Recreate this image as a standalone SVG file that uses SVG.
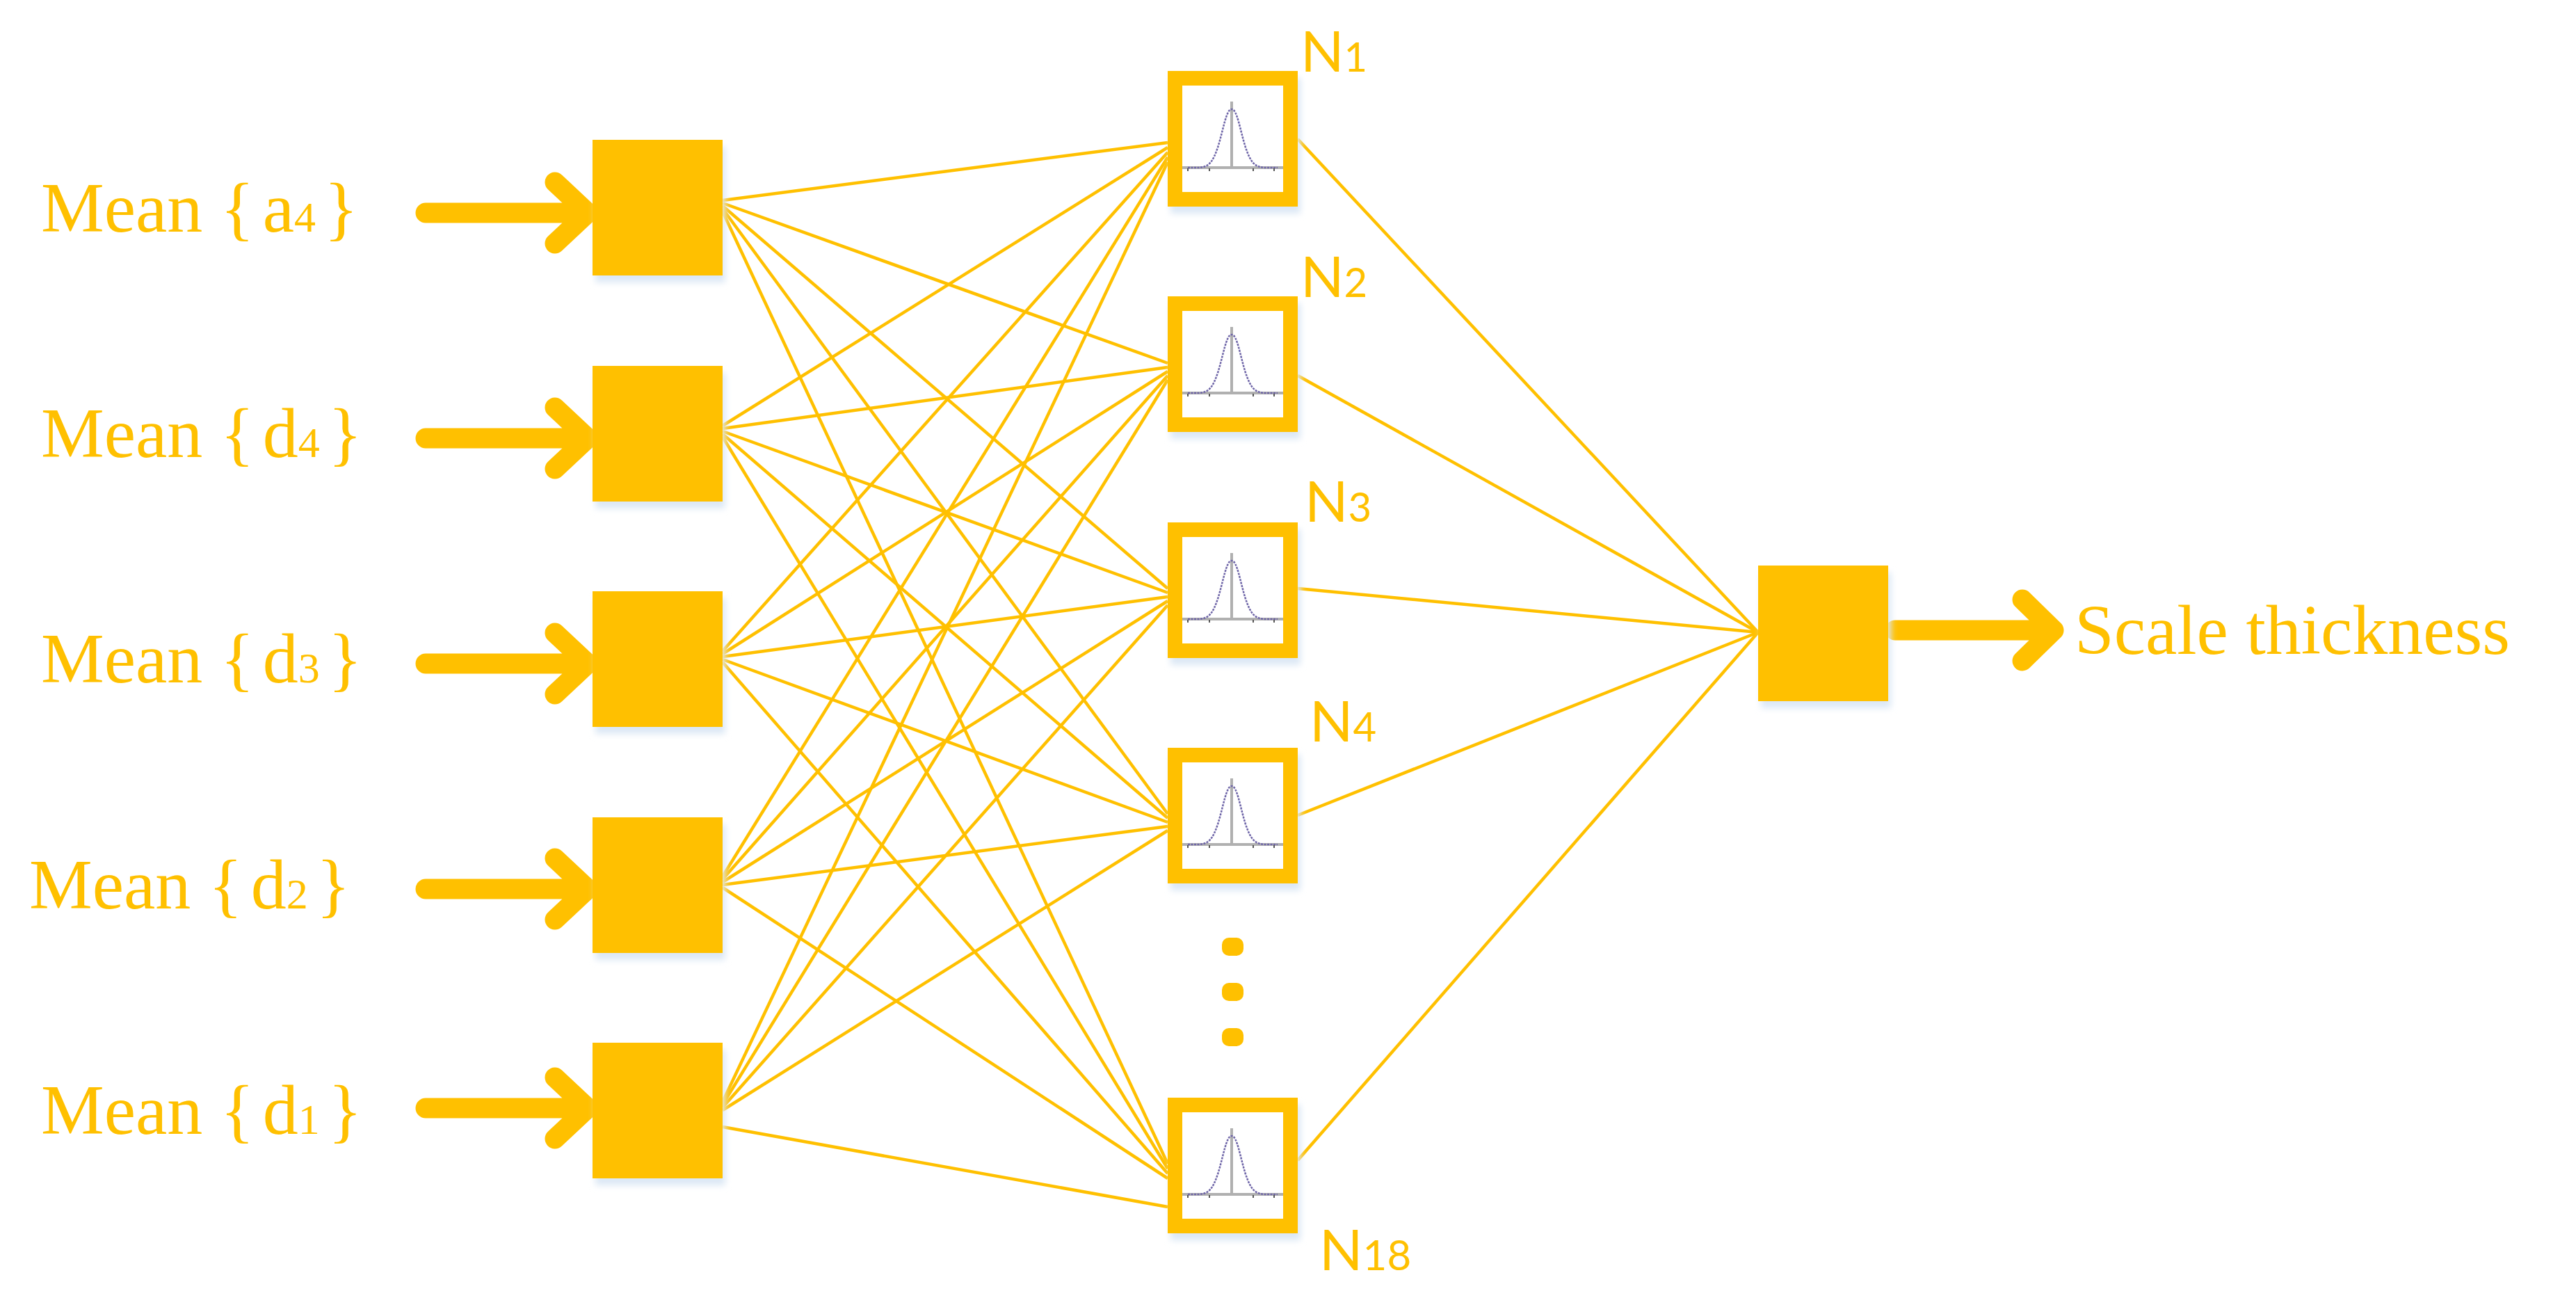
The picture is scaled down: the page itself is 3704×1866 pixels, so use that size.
<svg xmlns="http://www.w3.org/2000/svg" xmlns:xlink="http://www.w3.org/1999/xlink" width="3704" height="1866" viewBox="0 0 3704 1866">
<style>
.y{fill:#FFC000}
.arr{stroke:#FFC000;stroke-width:29;stroke-linecap:round;stroke-linejoin:round;fill:none}
.c{stroke:#FFC000;stroke-width:4.5;fill:none}
.lbl{font-family:"Liberation Serif",serif;font-size:102px;fill:#FFC000}
.nl{font-family:Lato,"Open Sans",sans-serif;font-size:82px;fill:#FFC000}
.sh{fill:#DCE8F5;filter:url(#b)}
</style>
<defs>
<filter id="b" x="-20%" y="-20%" width="140%" height="140%"><feGaussianBlur stdDeviation="5"/></filter>
<g id="gauss">
<rect x="0" y="0" width="187" height="195" class="sh" transform="translate(4,10)"/>
<rect x="0" y="0" width="187" height="195" class="y"/>
<rect x="21" y="21" width="145" height="153" fill="#fff"/>
<line x1="21" y1="139" x2="166" y2="139" stroke="#b0b0b0" stroke-width="4"/>
<line x1="92" y1="44" x2="92" y2="139" stroke="#b0b0b0" stroke-width="4"/>
<path d="M29,139 L45,139 C60,138 65,130 72,110 C80,85 84,55 92,55 C100,55 104,85 112,110 C119,130 124,138 139,139 L158,139" stroke="#6f66a8" stroke-width="2.5" stroke-dasharray="3,1.5" fill="none"/>
<g fill="#555"><rect x="28" y="140" width="2" height="4"/><rect x="59" y="140" width="2" height="4"/><rect x="122" y="140" width="2" height="4"/><rect x="152" y="140" width="2" height="4"/></g>
</g>
<g id="solid">
<rect x="0" y="0" width="187" height="195" class="sh" transform="translate(4,10)"/>
<rect x="0" y="0" width="187" height="195" class="y"/>
</g>
</defs>
<rect width="3704" height="1866" fill="#fff"/>

<g id="connectors">
<g class="c">
<line x1="1039" y1="288" x2="1679" y2="205"/>
<line x1="1039" y1="292" x2="1679" y2="522"/>
<line x1="1039" y1="296" x2="1679" y2="846"/>
<line x1="1039" y1="300" x2="1679" y2="1170"/>
<line x1="1039" y1="304" x2="1679" y2="1673"/>
<line x1="1039" y1="612" x2="1679" y2="212"/>
<line x1="1039" y1="616" x2="1679" y2="528"/>
<line x1="1039" y1="620" x2="1679" y2="852"/>
<line x1="1039" y1="624" x2="1679" y2="1176"/>
<line x1="1039" y1="628" x2="1679" y2="1680"/>
<line x1="1039" y1="936" x2="1679" y2="219"/>
<line x1="1039" y1="940" x2="1679" y2="534"/>
<line x1="1039" y1="944" x2="1679" y2="858"/>
<line x1="1039" y1="948" x2="1679" y2="1182"/>
<line x1="1039" y1="952" x2="1679" y2="1687"/>
<line x1="1039" y1="1260" x2="1679" y2="226"/>
<line x1="1039" y1="1264" x2="1679" y2="540"/>
<line x1="1039" y1="1268" x2="1679" y2="864"/>
<line x1="1039" y1="1272" x2="1679" y2="1188"/>
<line x1="1039" y1="1276" x2="1679" y2="1694"/>
<line x1="1039" y1="1584" x2="1679" y2="233"/>
<line x1="1039" y1="1588" x2="1679" y2="546"/>
<line x1="1039" y1="1592" x2="1679" y2="870"/>
<line x1="1039" y1="1596" x2="1679" y2="1194"/>
<line x1="1039" y1="1620" x2="1679" y2="1735"/>
</g>
<g class="c">
<line x1="1866" y1="200" x2="2528" y2="909"/>
<line x1="1866" y1="540" x2="2528" y2="909"/>
<line x1="1866" y1="846" x2="2528" y2="909"/>
<line x1="1866" y1="1172" x2="2528" y2="909"/>
<line x1="1866" y1="1668" x2="2528" y2="909"/>
</g>
<g class="arr">
<path d="M612,306 H845 M798,262 L845,306 L798,350"/>
<path d="M612,630 H845 M798,586 L845,630 L798,674"/>
<path d="M612,954 H845 M798,910 L845,954 L798,998"/>
<path d="M612,1278 H845 M798,1234 L845,1278 L798,1322"/>
<path d="M612,1593 H845 M798,1549 L845,1593 L798,1637"/>
<path d="M2725,906 H2953 M2908,862 L2953,906 L2908,950"/>
</g>
</g>

<g id="in1"><use xlink:href="#solid" x="852" y="201"/><text class="lbl" x="59" y="333">Mean {<tspan dx="12">a</tspan><tspan font-size="62">4</tspan><tspan dx="12">}</tspan></text></g>
<g id="in2"><use xlink:href="#solid" x="852" y="526"/><text class="lbl" x="59" y="657">Mean {<tspan dx="12">d</tspan><tspan font-size="62">4</tspan><tspan dx="12">}</tspan></text></g>
<g id="in3"><use xlink:href="#solid" x="852" y="850"/><text class="lbl" x="59" y="981">Mean {<tspan dx="12">d</tspan><tspan font-size="62">3</tspan><tspan dx="12">}</tspan></text></g>
<g id="in4"><use xlink:href="#solid" x="852" y="1175"/><text class="lbl" x="42" y="1306">Mean {<tspan dx="12">d</tspan><tspan font-size="62">2</tspan><tspan dx="12">}</tspan></text></g>
<g id="in5"><use xlink:href="#solid" x="852" y="1499"/><text class="lbl" x="59" y="1630">Mean {<tspan dx="12">d</tspan><tspan font-size="62">1</tspan><tspan dx="12">}</tspan></text></g>

<g id="n1"><use xlink:href="#gauss" x="1679" y="102"/><text class="nl" x="1870" y="103">N<tspan font-size="58">1</tspan></text></g>
<g id="n2"><use xlink:href="#gauss" x="1679" y="426"/><text class="nl" x="1870" y="427">N<tspan font-size="58">2</tspan></text></g>
<g id="n3"><use xlink:href="#gauss" x="1679" y="751"/><text class="nl" x="1876" y="750">N<tspan font-size="58">3</tspan></text></g>
<g id="n4"><use xlink:href="#gauss" x="1679" y="1075"/><text class="nl" x="1883" y="1066">N<tspan font-size="58">4</tspan></text></g>
<g id="n18"><use xlink:href="#gauss" x="1679" y="1578"/><text class="nl" x="1897" y="1826">N<tspan font-size="60">18</tspan></text></g>

<g id="dots" class="y">
<rect x="1757" y="1348" width="31" height="26" rx="10"/>
<rect x="1757" y="1413" width="31" height="26" rx="10"/>
<rect x="1757" y="1478" width="31" height="26" rx="10"/>
</g>

<g id="out"><use xlink:href="#solid" x="2528" y="813"/><text class="lbl" x="2983" y="940" font-size="110">Scale thickness</text></g>
</svg>
